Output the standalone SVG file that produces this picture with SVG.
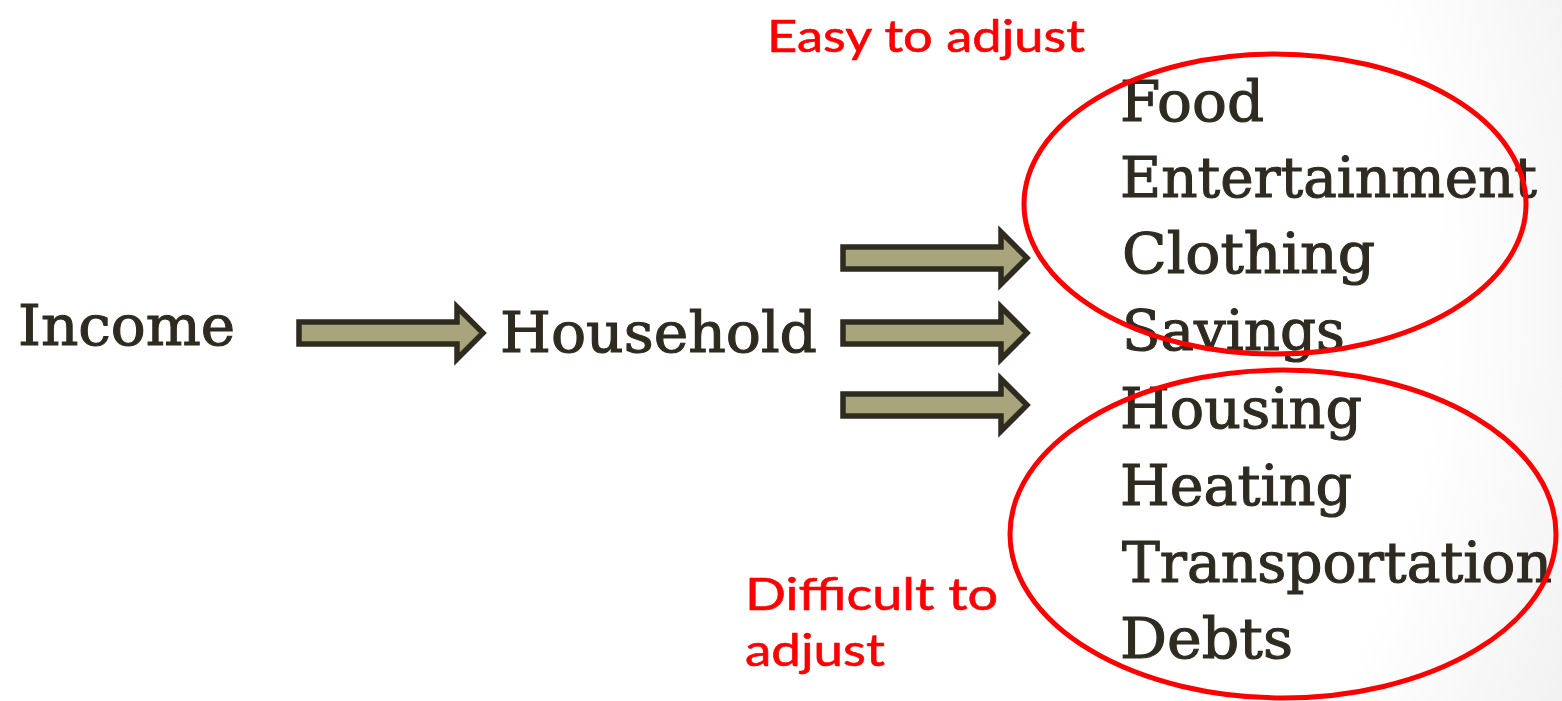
<svg xmlns="http://www.w3.org/2000/svg" width="1562" height="701" viewBox="0 0 1562 701">
<defs>
<radialGradient id="bg" cx="600" cy="300" r="1050" gradientUnits="userSpaceOnUse">
<stop offset="0" stop-color="#ffffff"/>
<stop offset="0.8" stop-color="#ffffff"/>
<stop offset="1" stop-color="#f1f1f1"/>
</radialGradient>
<path id="arrow" d="M0,-11 H158 V-26 L184,0 L158,26 V11 H0 Z"/>
</defs>
<style>
.item{font-family:"DejaVu Serif","Liberation Serif",serif;font-size:56px;fill:#2f2b21;stroke:#2f2b21;stroke-width:1.1px;}
.note{font-family:"Comic Sans MS","Lato","DejaVu Sans",sans-serif;font-size:44px;fill:#ff0000;stroke:#ff0000;stroke-width:0.6px;}
.arr{fill:#a8a57c;stroke:#2f2b21;stroke-width:5.5;stroke-linejoin:miter;}
.ring{fill:none;stroke:#ff0000;stroke-width:5;}
</style>
<rect x="0" y="0" width="1562" height="701" fill="url(#bg)"/>
<g id="connectors">
<use href="#arrow" class="arr" transform="translate(299,333)"/>
<use href="#arrow" class="arr" transform="translate(843,258)"/>
<use href="#arrow" class="arr" transform="translate(843,333)"/>
<use href="#arrow" class="arr" transform="translate(843,405)"/>
</g>
<g id="income"><text class="item" x="18" y="345" textLength="217" lengthAdjust="spacingAndGlyphs">Income</text></g>
<g id="household"><text class="item" x="500" y="352" textLength="317" lengthAdjust="spacingAndGlyphs">Household</text></g>
<g id="easy-items">
<text class="item" x="1120" y="121" textLength="144" lengthAdjust="spacingAndGlyphs">Food</text>
<text class="item" x="1120" y="197" textLength="417" lengthAdjust="spacingAndGlyphs">Entertainment</text>
<text class="item" x="1122" y="273" textLength="253" lengthAdjust="spacingAndGlyphs">Clothing</text>
<text class="item" x="1122" y="350" textLength="223" lengthAdjust="spacingAndGlyphs">Savings</text>
</g>
<g id="difficult-items">
<text class="item" x="1120" y="428" textLength="242" lengthAdjust="spacingAndGlyphs">Housing</text>
<text class="item" x="1120" y="505" textLength="232" lengthAdjust="spacingAndGlyphs">Heating</text>
<text class="item" x="1122" y="582" textLength="430" lengthAdjust="spacingAndGlyphs">Transportation</text>
<text class="item" x="1120" y="658" textLength="173" lengthAdjust="spacingAndGlyphs">Debts</text>
</g>
<g id="easy-ring"><ellipse class="ring" cx="1275" cy="204" rx="251" ry="150"/></g>
<g id="difficult-ring"><ellipse class="ring" cx="1283" cy="534" rx="273" ry="164"/></g>
<g id="easy-label"><text class="note" x="767" y="52" textLength="318" lengthAdjust="spacingAndGlyphs">Easy to adjust</text></g>
<g id="difficult-label">
<text class="note" x="745" y="610" textLength="253" lengthAdjust="spacingAndGlyphs">Difficult to</text>
<text class="note" x="745" y="666" textLength="140" lengthAdjust="spacingAndGlyphs">adjust</text>
</g>
</svg>
